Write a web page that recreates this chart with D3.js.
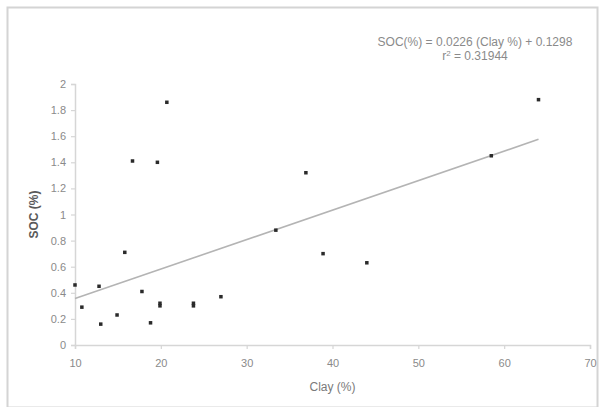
<!DOCTYPE html>
<html>
<head>
<meta charset="utf-8">
<script src="https://cdn.jsdelivr.net/npm/d3@7"></script>
<style>
  html, body { margin: 0; padding: 0; background: #fff; }
  svg { display: block; font-family: "Liberation Sans", Arial, sans-serif; }
</style>
</head>
<body>
<svg id="chart" width="601" height="407"></svg>
<script>
// Clay content (%) of each sample
const clay = [10, 10.8, 12.8, 13.0, 14.9, 15.8, 16.7, 17.8, 18.8, 19.6, 19.9, 19.9,
              20.7, 23.8, 23.8, 27.0, 33.4, 36.9, 38.9, 44.0, 58.5, 64.0];
// Soil organic carbon (%) of each sample
const soc = [0.46, 0.29, 0.45, 0.16, 0.23, 0.71, 1.41, 0.41, 0.17, 1.40, 0.32, 0.30,
             1.86, 0.32, 0.30, 0.37, 0.88, 1.32, 0.70, 0.63, 1.45, 1.88];

// Linear fit: SOC = slope * clay + intercept
const fitSlope = 0.0226;
const fitIntercept = 0.1298;
const fitR2 = "0.31944";

const xTicks = [10, 20, 30, 40, 50, 60, 70];
const yTicks = [0, 0.2, 0.4, 0.6, 0.8, 1, 1.2, 1.4, 1.6, 1.8, 2];

const svg = d3.select("#chart");

// outer chart frame
svg.append("rect")
  .attr("x", 7.5).attr("y", 7.5)
  .attr("width", 590).attr("height", 400)
  .attr("fill", "none")
  .attr("stroke", "#d4d4d4")
  .attr("stroke-width", 2);

const x = d3.scaleLinear().domain([10, 70]).range([75, 590]);
const y = d3.scaleLinear().domain([0, 2]).range([345, 84]);

const axisColor = "#d6d6d6";
const labelColor = "#8a8a8a";

// x axis
const gx = svg.append("g")
  .attr("transform", `translate(0,${y(0)})`)
  .call(d3.axisBottom(x).tickValues(xTicks).tickSize(4).tickPadding(10)
        .tickFormat(d3.format("d")));
// y axis
const gy = svg.append("g")
  .attr("transform", `translate(${x(10)},0)`)
  .call(d3.axisLeft(y).tickValues(yTicks).tickSize(4).tickPadding(5)
        .tickFormat(d => d3.format("")(d)));

[gx, gy].forEach(g => {
  g.select(".domain").attr("stroke", axisColor).attr("stroke-width", 1.5);
  g.selectAll(".tick line").attr("stroke", axisColor).attr("stroke-width", 1.2);
  g.selectAll(".tick text")
    .attr("fill", labelColor)
    .style("font-size", "11px")
    .style("font-family", "'Liberation Sans', Arial, sans-serif");
});

// axis titles
svg.append("text")
  .attr("x", (x(10) + x(70)) / 2)
  .attr("y", 391)
  .attr("text-anchor", "middle")
  .attr("fill", "#7a7a7a")
  .style("font-size", "12px")
  .text("Clay (%)");

svg.append("text")
  .attr("transform", `translate(38,${(y(0) + y(2)) / 2}) rotate(-90)`)
  .attr("text-anchor", "middle")
  .attr("fill", "#5a5a5a")
  .style("font-size", "12px")
  .style("font-weight", "bold")
  .text("SOC (%)");

// regression line across the clay range of the data
const xExtent = d3.extent(clay);
const fitLine = d3.line()
  .x(d => x(d))
  .y(d => y(fitSlope * d + fitIntercept));
svg.append("path")
  .datum(xExtent)
  .attr("d", fitLine)
  .attr("fill", "none")
  .attr("stroke", "#b4b4b4")
  .attr("stroke-width", 1.6);

// sample markers
const pts = clay.map((c, i) => ({ c, s: soc[i] }));
const m = 3.5;
svg.append("g").selectAll("rect")
  .data(pts)
  .join("rect")
  .attr("x", d => x(d.c) - m / 2)
  .attr("y", d => y(d.s) - m / 2)
  .attr("width", m)
  .attr("height", m)
  .attr("fill", "#2a2a2a");

// fit equation
const eq = svg.append("g").attr("fill", "#8a8a8a").style("font-size", "12px");
eq.append("text")
  .attr("x", 475).attr("y", 45.5)
  .attr("text-anchor", "middle")
  .text(`SOC(%) = ${fitSlope.toFixed(4)} (Clay %) + ${fitIntercept.toFixed(4)}`);
const r2 = eq.append("text")
  .attr("x", 475).attr("y", 60)
  .attr("text-anchor", "middle");
r2.append("tspan").text("r");
r2.append("tspan").attr("dy", -4).style("font-size", "8px").text("2");
r2.append("tspan").attr("dy", 4).text(` = ${fitR2}`);
</script>
</body>
</html>
